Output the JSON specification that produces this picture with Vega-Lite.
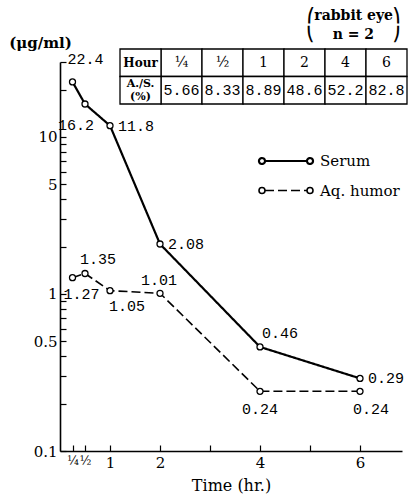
{
  "$schema": "https://vega.github.io/schema/vega-lite/v6.json",
  "width": 342,
  "height": 389,
  "autosize": {"type": "none"},
  "padding": {"left": 60, "top": 62, "right": 6, "bottom": 45},
  "background": "white",
  "config": {
    "view": {"stroke": null},
    "font": "DejaVu Serif",
    "axis": {
      "domainColor": "black", "domainWidth": 1.6,
      "tickColor": "black", "tickWidth": 1.2,
      "labelColor": "black", "titleColor": "black",
      "labelFont": "DejaVu Serif", "titleFont": "DejaVu Serif",
      "labelFontSize": 15, "titleFontSize": 15, "titleFontWeight": "normal",
      "grid": false, "labelOverlap": false, "labelBound": false
    }
  },
  "title": {
    "text": ["⎛rabbit eye⎞", "⎝\u2003\u2005\u200An = 2\u2003\u2005\u200A⎠"],
    "anchor": "end", "frame": "group",
    "font": "DejaVu Serif", "fontSize": 14, "fontWeight": "bold",
    "lineHeight": 19, "offset": 0, "dx": -2, "dy": 7, "color": "black"
  },
  "resolve": {"scale": {"x": "independent", "y": "independent"}},
  "layer": [
    {
      "data": {"values": [
        {"time": 0.25, "series": "Serum", "conc": 22.4},
        {"time": 0.5, "series": "Serum", "conc": 16.2},
        {"time": 1, "series": "Serum", "conc": 11.8},
        {"time": 2, "series": "Serum", "conc": 2.08},
        {"time": 4, "series": "Serum", "conc": 0.46},
        {"time": 6, "series": "Serum", "conc": 0.29},
        {"time": 0.25, "series": "Aq. humor", "conc": 1.27},
        {"time": 0.5, "series": "Aq. humor", "conc": 1.35},
        {"time": 1, "series": "Aq. humor", "conc": 1.05},
        {"time": 2, "series": "Aq. humor", "conc": 1.01},
        {"time": 4, "series": "Aq. humor", "conc": 0.24},
        {"time": 6, "series": "Aq. humor", "conc": 0.24}
      ]},
      "encoding": {
        "x": {
          "field": "time", "type": "quantitative",
          "scale": {"domain": [0, 6.84], "nice": false, "zero": false},
          "axis": {
            "values": [0.25, 0.5, 1, 2, 3, 4, 5, 6],
            "labelExpr": "datum.value == 0.25 ? '¼' : datum.value == 0.5 ? '½' : (datum.value == 3 || datum.value == 5) ? '' : format(datum.value, 'd')",
            "labelFontSize": {"condition": {"test": "datum.value < 1", "value": 12}, "value": 15},
            "title": "Time (hr.)", "titleFontSize": 16, "tickSize": -6, "labelPadding": 10, "titlePadding": 7
          }
        },
        "y": {
          "field": "conc", "type": "quantitative",
          "scale": {"type": "log", "domain": [0.1, 30], "nice": false},
          "axis": {
            "values": [0.1, 0.2, 0.3, 0.4, 0.5, 0.6, 0.7, 0.8, 0.9, 1, 2, 3, 4, 5, 6, 7, 8, 9, 10, 20, 30],
            "labelExpr": "indexof([0.1, 0.5, 1, 5, 10], datum.value) >= 0 ? format(datum.value, '~g') : ''",
            "title": "(μg/ml)", "titleAngle": 0, "titleX": -20, "titleY": -20,
            "titleAlign": "center", "titleBaseline": "middle", "titleFontWeight": "bold",
            "tickSize": -6, "labelPadding": 9
          }
        }
      },
      "layer": [
        {
          "mark": {"type": "line", "color": "black"},
          "encoding": {
            "strokeDash": {
              "field": "series", "type": "nominal",
              "scale": {"domain": ["Serum", "Aq. humor"], "range": [[1, 0], [9, 4]]},
              "legend": {
                "orient": "none", "legendX": 198, "legendY": 84, "title": null,
                "symbolType": "M-1.556,0L1.556,0M2,0A0.222,0.222,0,0,1,1.778,0.222M1.778,0.222A0.222,0.222,0,0,1,1.556,0M1.556,0A0.222,0.222,0,0,1,1.778,-0.222M1.778,-0.222A0.222,0.222,0,0,1,2,0M-1.556,0A0.222,0.222,0,0,1,-1.778,0.222M-1.778,0.222A0.222,0.222,0,0,1,-2,0M-2,0A0.222,0.222,0,0,1,-1.778,-0.222M-1.778,-0.222A0.222,0.222,0,0,1,-1.556,0",
                "symbolSize": 729, "symbolStrokeColor": "black", "symbolStrokeWidth": 1.6,
                "symbolFillColor": "transparent", "symbolOffset": 13,
                "labelFont": "DejaVu Serif", "labelFontSize": 15, "labelColor": "black",
                "labelOffset": 19, "rowPadding": 7, "labelLimit": 200
              }
            },
            "strokeWidth": {
              "field": "series", "type": "nominal",
              "scale": {"domain": ["Serum", "Aq. humor"], "range": [2.2, 1.6]},
              "legend": null
            }
          }
        },
        {
          "mark": {"type": "point", "shape": "circle", "size": 36, "filled": true, "fill": "white", "stroke": "black", "strokeWidth": 1.3, "opacity": 1},
          "encoding": {"detail": {"field": "series"}}
        },
        {
          "transform": [{"filter": "datum.series == 'Serum' && (datum.time == 1 || datum.time == 2 || datum.time == 6)"}],
          "mark": {"type": "text", "font": "Liberation Mono", "fontSize": 15, "align": "left", "baseline": "middle", "dx": 8, "dy": 0, "color": "black"},
          "encoding": {"text": {"field": "conc", "type": "quantitative"}}
        },
        {
          "transform": [{"filter": "datum.series == 'Serum' && datum.time == 0.25"}],
          "mark": {"type": "text", "font": "Liberation Mono", "fontSize": 15, "align": "center", "baseline": "middle", "dx": 13, "dy": -23, "color": "black"},
          "encoding": {"text": {"field": "conc", "type": "quantitative"}}
        },
        {
          "transform": [{"filter": "datum.series == 'Serum' && datum.time == 0.5"}],
          "mark": {"type": "text", "font": "Liberation Mono", "fontSize": 15, "align": "center", "baseline": "middle", "dx": -9, "dy": 21, "color": "black"},
          "encoding": {"text": {"field": "conc", "type": "quantitative"}}
        },
        {
          "transform": [{"filter": "datum.series == 'Serum' && datum.time == 4"}],
          "mark": {"type": "text", "font": "Liberation Mono", "fontSize": 15, "align": "left", "baseline": "middle", "dx": 2, "dy": -14, "color": "black"},
          "encoding": {"text": {"field": "conc", "type": "quantitative"}}
        },
        {
          "transform": [{"filter": "datum.series == 'Aq. humor' && datum.time == 0.25"}],
          "mark": {"type": "text", "font": "Liberation Mono", "fontSize": 15, "align": "center", "baseline": "middle", "dx": 9, "dy": 16, "color": "black"},
          "encoding": {"text": {"field": "conc", "type": "quantitative"}}
        },
        {
          "transform": [{"filter": "datum.series == 'Aq. humor' && datum.time == 0.5"}],
          "mark": {"type": "text", "font": "Liberation Mono", "fontSize": 15, "align": "center", "baseline": "middle", "dx": 13, "dy": -14, "color": "black"},
          "encoding": {"text": {"field": "conc", "type": "quantitative"}}
        },
        {
          "transform": [{"filter": "datum.series == 'Aq. humor' && datum.time == 1"}],
          "mark": {"type": "text", "font": "Liberation Mono", "fontSize": 15, "align": "center", "baseline": "middle", "dx": 17, "dy": 15, "color": "black"},
          "encoding": {"text": {"field": "conc", "type": "quantitative"}}
        },
        {
          "transform": [{"filter": "datum.series == 'Aq. humor' && datum.time == 2"}],
          "mark": {"type": "text", "font": "Liberation Mono", "fontSize": 15, "align": "center", "baseline": "middle", "dx": -1, "dy": -13, "color": "black"},
          "encoding": {"text": {"field": "conc", "type": "quantitative"}}
        },
        {
          "transform": [{"filter": "datum.series == 'Aq. humor' && datum.time == 4"}],
          "mark": {"type": "text", "font": "Liberation Mono", "fontSize": 15, "align": "center", "baseline": "middle", "dx": 0, "dy": 18, "color": "black"},
          "encoding": {"text": {"field": "conc", "type": "quantitative"}}
        },
        {
          "transform": [{"filter": "datum.series == 'Aq. humor' && datum.time == 6"}],
          "mark": {"type": "text", "font": "Liberation Mono", "fontSize": 15, "align": "center", "baseline": "middle", "dx": 11, "dy": 18, "color": "black"},
          "encoding": {"text": {"field": "conc", "type": "quantitative"}}
        }
      ]
    },
    {
      "data": {"values": [
        {"hour": "¼", "ratio": 5.66},
        {"hour": "½", "ratio": 8.33},
        {"hour": "1", "ratio": 8.89},
        {"hour": "2", "ratio": 48.6},
        {"hour": "4", "ratio": 52.2},
        {"hour": "6", "ratio": 82.8}
      ]},
      "encoding": {
        "x": {"field": "hour", "type": "nominal", "scale": {"domain": ["Hour", "¼", "½", "1", "2", "4", "6"], "range": [60, 347], "paddingInner": 0, "paddingOuter": 0}, "axis": null}
      },
      "layer": [
        {
          "mark": {"type": "rect", "fill": "white", "stroke": "black", "strokeWidth": 1.3},
          "encoding": {"y": {"datum": "top", "type": "nominal", "scale": {"domain": ["top", "bottom"], "range": [-13, 42], "paddingInner": 0, "paddingOuter": 0}, "axis": null}}
        },
        {
          "mark": {"type": "rect", "fill": "white", "stroke": "black", "strokeWidth": 1.3},
          "encoding": {"y": {"datum": "bottom", "type": "nominal"}}
        },
        {
          "data": {"values": [{"hour": "Hour"}]},
          "mark": {"type": "rect", "fill": "white", "stroke": "black", "strokeWidth": 1.3},
          "encoding": {"y": {"datum": "top", "type": "nominal"}}
        },
        {
          "data": {"values": [{"hour": "Hour"}]},
          "mark": {"type": "rect", "fill": "white", "stroke": "black", "strokeWidth": 1.3},
          "encoding": {"y": {"datum": "bottom", "type": "nominal"}}
        },
        {
          "mark": {"type": "text", "font": "DejaVu Serif", "fontSize": 14, "color": "black", "baseline": "middle"},
          "encoding": {"y": {"datum": "top", "type": "nominal"}, "text": {"field": "hour", "type": "nominal"}}
        },
        {
          "mark": {"type": "text", "font": "Liberation Mono", "fontSize": 15, "color": "black", "baseline": "middle"},
          "encoding": {"y": {"datum": "bottom", "type": "nominal"}, "text": {"field": "ratio", "type": "quantitative"}}
        },
        {
          "data": {"values": [{"hour": "Hour"}]},
          "mark": {"type": "text", "font": "DejaVu Serif", "fontSize": 12, "fontWeight": "bold", "color": "black", "baseline": "middle"},
          "encoding": {"y": {"datum": "top", "type": "nominal"}, "text": {"value": "Hour"}}
        },
        {
          "data": {"values": [{"hour": "Hour"}]},
          "mark": {"type": "text", "font": "DejaVu Serif", "fontSize": 11, "fontWeight": "bold", "color": "black", "baseline": "middle", "lineBreak": "\n", "lineHeight": 13, "dy": -6},
          "encoding": {"y": {"datum": "bottom", "type": "nominal"}, "text": {"value": "A./S.\n(%)"}}
        }
      ]
    }
  ]
}
